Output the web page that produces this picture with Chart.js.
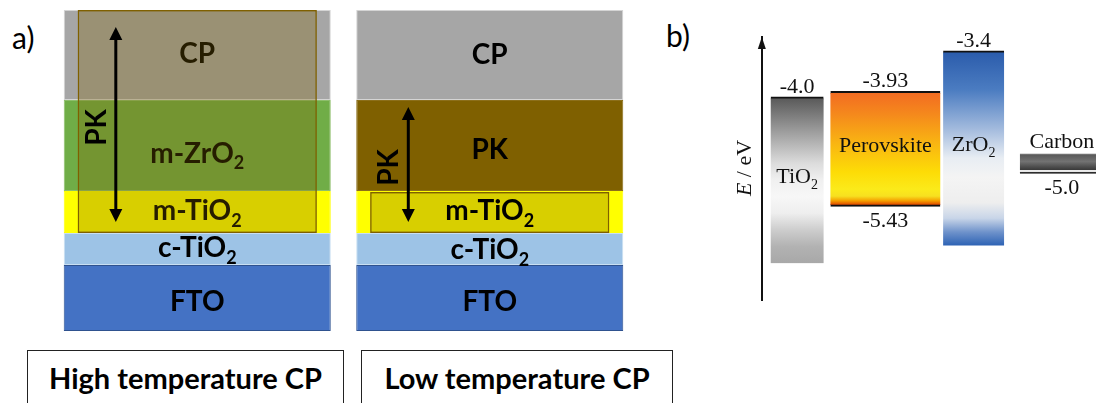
<!DOCTYPE html>
<html>
<head>
<meta charset="utf-8">
<script src="https://cdn.jsdelivr.net/npm/chart.js@4.4.0/dist/chart.umd.min.js"></script>
<style>
  html, body { margin: 0; padding: 0; background: #fff; }
  body { width: 1096px; height: 403px; overflow: hidden; position: relative; font-family: Lato, "Open Sans", sans-serif; }
  #stacks { position: absolute; left: 0; top: 0; }
  #bands { position: absolute; left: 700px; top: 0; }
  .panel-tag { position: absolute; font: 400 30px Lato, sans-serif; color: #000; line-height: 1; }
  .caption { position: absolute; top: 350px; height: 60px; box-sizing: border-box; border: 1.5px solid #222; border-bottom: none;
             font: 700 29px Lato, sans-serif; color: #000; text-align: center; line-height: 1; padding-top: 12px; }
</style>
</head>
<body>
<div class="panel-tag" style="left:12px;top:22px;">a)</div>
<div class="panel-tag" style="left:666px;top:20px;">b)</div>
<canvas id="stacks" width="650" height="340"></canvas>
<canvas id="bands" width="410" height="310"></canvas>
<div class="caption" style="left:27px;width:317px;">High temperature CP</div>
<div class="caption" style="left:361px;width:312px;">Low temperature CP</div>

<script>
// ---------- a) device cross-sections (layer thickness, arbitrary units, bottom → top) ----------
const stackNames = ['High temperature CP', 'Low temperature CP'];
const ftoLayer = [[0, 66], [0, 66]];
const compactTiO2Layer = [[66, 98], [66, 98]];
const mesoTiO2Layer = [[98, 140], [98, 140]];
const middleLayer = [[140, 231], [140, 231]];        // m-ZrO2 scaffold / perovskite capping layer
const carbonLayer = [[231, 321], [231, 321]];
const perovskiteFill = [[98, 321], [98, 139]];       // region infiltrated by perovskite
const middleLayerNames = ['m-ZrO2', 'PK'];
const pkArrowSpan = [[109, 304], [109, 224]];

// ---------- b) energy levels (eV) ----------
const materials = ['TiO2', 'Perovskite', 'ZrO2', 'Carbon'];
const upperLevel = [-4.0, -3.93, -3.4, -4.74];
const lowerLevel = [-6.17, -5.43, -5.94, -5.0];
const showUpperValue = [true, true, true, false];
const showLowerValue = [false, true, false, true];

// draws a formula such as "TiO2" with the digits set as subscripts, centred on (cx, cy)
function drawFormula(ctx, text, cx, cy, size, family, weight, capRatio) {
  const parts = text.split(/(\d+)/).filter(s => s.length);
  const mainFont = `${weight} ${size}px ${family}`;
  const subFont = `${weight} ${Math.round(size * 0.64)}px ${family}`;
  const widths = parts.map(p => { ctx.font = /^\d+$/.test(p) ? subFont : mainFont; return ctx.measureText(p).width; });
  const total = widths.reduce((a, b) => a + b, 0);
  let x = cx - total / 2;
  const baseline = cy + size * capRatio / 2;
  ctx.textAlign = 'left';
  ctx.textBaseline = 'alphabetic';
  parts.forEach((p, i) => {
    const sub = /^\d+$/.test(p);
    ctx.font = sub ? subFont : mainFont;
    ctx.fillText(p, x, baseline + (sub ? size * 0.24 : 0));
    x += widths[i];
  });
}

function drawArrow(ctx, x, y1, y2) {
  const head = 13, half = 6.5;
  ctx.save();
  ctx.strokeStyle = '#000';
  ctx.fillStyle = '#000';
  ctx.lineWidth = 3;
  ctx.beginPath();
  ctx.moveTo(x, y1 + head - 2);
  ctx.lineTo(x, y2 - head + 2);
  ctx.stroke();
  ctx.beginPath();
  ctx.moveTo(x, y1); ctx.lineTo(x - half, y1 + head); ctx.lineTo(x + half, y1 + head); ctx.closePath(); ctx.fill();
  ctx.beginPath();
  ctx.moveTo(x, y2); ctx.lineTo(x - half, y2 - head); ctx.lineTo(x + half, y2 - head); ctx.closePath(); ctx.fill();
  ctx.restore();
}

const LABEL_FONT = 'Lato, "Open Sans", sans-serif';

function layerLabels(chart, stackIndex) {
  const ctx = chart.ctx;
  ctx.save();
  ctx.fillStyle = '#000';
  chart.data.datasets.forEach((ds, di) => {
    if (!ds.layerText) return;
    const el = chart.getDatasetMeta(di).data[stackIndex];
    if (!el) return;
    const shift = ds.labelShift ? ds.labelShift[stackIndex] : 0;
    const cy = (el.y + el.base) / 2 + shift;
    drawFormula(ctx, ds.layerText[stackIndex], el.x, cy, 28, LABEL_FONT, 700, 0.72);
  });
  ctx.restore();
}

const stackAnnotations = {
  id: 'stackAnnotations',
  beforeDatasetDraw(chart, args) {
    // labels of the high-temperature stack sit beneath the translucent perovskite fill
    if (chart.data.datasets[args.index].fillRegion) layerLabels(chart, 0);
  },
  afterDatasetsDraw(chart) {
    layerLabels(chart, 1);
    const ctx = chart.ctx;
    const y = chart.scales.y;
    const meta = chart.getDatasetMeta(0).data;
    meta.forEach((el, i) => {
      const left = el.x - el.width / 2;
      const ax = left + el.width * 0.195;
      const yTop = y.getPixelForValue(pkArrowSpan[i][1]);
      const yBot = y.getPixelForValue(pkArrowSpan[i][0]);
      drawArrow(ctx, ax, yTop, yBot);
      ctx.save();
      ctx.translate(left + el.width * 0.12, (yTop + yBot) / 2 + 3);
      ctx.rotate(-Math.PI / 2);
      ctx.fillStyle = '#000';
      drawFormula(ctx, 'PK', 0, 0, 28, LABEL_FONT, 700, 0.72);
      ctx.restore();
    });
  }
};

const layerStyle = { barPercentage: 0.913, categoryPercentage: 1, grouped: false, borderSkipped: false, borderWidth: 1, order: 1 };

new Chart(document.getElementById('stacks'), {
  type: 'bar',
  data: {
    labels: stackNames,
    datasets: [
      Object.assign({ data: ftoLayer, backgroundColor: '#4472C4', borderColor: '#2F528F', layerText: ['FTO', 'FTO'], labelShift: [3, 3] }, layerStyle),
      Object.assign({ data: compactTiO2Layer, backgroundColor: '#9DC3E6', borderColor: '#C9DFF2', layerText: ['c-TiO2', 'c-TiO2'], labelShift: [-2, 0] }, layerStyle),
      Object.assign({ data: mesoTiO2Layer, backgroundColor: '#FFFF00', borderColor: '#FFFF00', layerText: ['m-TiO2', 'm-TiO2'], labelShift: [-2, -2] }, layerStyle),
      Object.assign({ data: middleLayer, backgroundColor: ['#70AD47', '#7F6000'], borderColor: ['#8DBE6B', '#8C6F1A'], layerText: middleLayerNames, labelShift: [7, 3] }, layerStyle),
      Object.assign({ data: carbonLayer, backgroundColor: '#A6A6A6', borderColor: '#D4D4D4', layerText: ['CP', 'CP'], labelShift: [-2, -1] }, layerStyle),
      { data: perovskiteFill, fillRegion: true, backgroundColor: 'rgba(127,96,0,0.3)', borderColor: '#7F6000', borderWidth: 1.5,
        borderSkipped: false, barPercentage: 0.818, categoryPercentage: 1, grouped: false, order: 0 }
    ]
  },
  options: {
    responsive: false,
    animation: false,
    events: [],
    layout: { padding: { left: 51, right: 14, top: 10, bottom: 9 } },
    plugins: { legend: { display: false }, tooltip: { enabled: false } },
    scales: {
      x: { display: false },
      y: { display: false, min: 0, max: 321 }
    }
  },
  plugins: [stackAnnotations]
});

// ---------- b) band diagram ----------
const bandStops = [
  [[0, '#575757'], [0.2, '#9a9a9a'], [0.4, '#dcdcdc'], [0.5, '#f0f0f0'], [0.6, '#f7f7f7'], [0.7, '#eeeeee'], [0.8, '#cdcdcd'], [0.9, '#b2b2b2'], [1, '#a8a8a8']],
  [[0, '#F26A22'], [0.2, '#F5891C'], [0.45, '#F9B512'], [0.7, '#FDDC06'], [0.85, '#FBEA1A'], [0.91, '#F7E020'], [0.95, '#F5A000'], [0.985, '#E04A00'], [1, '#C03000']],
  [[0, '#2A5BAB'], [0.2, '#4B7CC1'], [0.4, '#A2BADD'], [0.55, '#E8EDF3'], [0.65, '#F4F4F4'], [0.78, '#EEEEEE'], [0.86, '#C8D5E8'], [0.93, '#6F93CB'], [1, '#2D62B4']],
  [[0, '#a0a0a0'], [0.07, '#5a5a5a'], [0.4, '#727272'], [0.78, '#3e3e3e'], [0.82, '#3a3a3a'], [0.84, '#ececec'], [0.9, '#ececec'], [0.92, '#222'], [1, '#222']]
];
const barWidths = [53, 110, 61, 84];
const edgeWidths = [{ top: 2, bottom: 0, left: 0, right: 0 }, { top: 2, bottom: 2, left: 0, right: 0 },
                    { top: 2, bottom: 0, left: 0, right: 0 }, { top: 0, bottom: 1, left: 0, right: 0 }];
const edgeColors = ['#111', '#111', '#111', '#111'];
const AXIS_AT = -0.4;

function bandFill(i) {
  return (c) => {
    const chart = c.chart;
    if (!chart.chartArea) return bandStops[i][0][1];
    const ys = chart.scales.y;
    const g = chart.ctx.createLinearGradient(0, ys.getPixelForValue(upperLevel[i]), 0, ys.getPixelForValue(lowerLevel[i]));
    bandStops[i].forEach(([p, col]) => g.addColorStop(p, col));
    return g;
  };
}

const fmt = v => v.toLocaleString('en-US', { minimumFractionDigits: 1, maximumFractionDigits: 2 });
const SERIF = '"Liberation Serif", "Times New Roman", serif';

const bandAnnotations = {
  id: 'bandAnnotations',
  afterDatasetsDraw(chart) {
    const ctx = chart.ctx;
    const ys = chart.scales.y;
    const axisX = chart.scales.x.getPixelForValue(AXIS_AT);
    // arrow head on the energy axis
    ctx.save();
    ctx.fillStyle = '#111';
    ctx.beginPath();
    ctx.moveTo(axisX, ys.top);
    ctx.lineTo(axisX - 4, ys.top + 12);
    ctx.lineTo(axisX + 4, ys.top + 12);
    ctx.closePath();
    ctx.fill();
    // axis title
    ctx.translate(axisX - 17, 168);
    ctx.rotate(-Math.PI / 2);
    ctx.fillStyle = '#111';
    ctx.textBaseline = 'middle';
    ctx.font = `italic 22px ${SERIF}`;
    const wE = ctx.measureText('E').width;
    ctx.font = `22px ${SERIF}`;
    const wRest = ctx.measureText(' / eV').width;
    ctx.textAlign = 'left';
    ctx.font = `italic 22px ${SERIF}`;
    ctx.fillText('E', -(wE + wRest) / 2, 0);
    ctx.font = `22px ${SERIF}`;
    ctx.fillText(' / eV', -(wE + wRest) / 2 + wE, 0);
    ctx.restore();

    ctx.save();
    ctx.fillStyle = '#111';
    materials.forEach((m, i) => {
      const el = chart.getDatasetMeta(i).data[i];
      const top = ys.getPixelForValue(upperLevel[i]);
      const bottom = ys.getPixelForValue(lowerLevel[i]);
      ctx.font = `22px ${SERIF}`;
      ctx.textAlign = 'center';
      ctx.textBaseline = 'alphabetic';
      if (showUpperValue[i]) ctx.fillText(fmt(upperLevel[i]), el.x, top - 4);
      if (showLowerValue[i]) ctx.fillText(fmt(lowerLevel[i]), el.x, bottom + 21);
      if (i === 3) {
        drawFormula(ctx, m, el.x, top - 13, 22, SERIF, 400, 0.66);
      } else {
        drawFormula(ctx, m, el.x, (top + bottom) / 2 - 4, 22, SERIF, 400, 0.66);
      }
    });
    ctx.restore();
  }
};

new Chart(document.getElementById('bands'), {
  type: 'bar',
  data: {
    labels: materials,
    datasets: materials.map((m, i) => ({
      label: m,
      data: materials.map((_, j) => (j === i ? [lowerLevel[i], upperLevel[i]] : null)),
      backgroundColor: bandFill(i),
      borderColor: edgeColors[i],
      borderWidth: edgeWidths[i],
      borderSkipped: false,
      barThickness: barWidths[i],
      grouped: false
    }))
  },
  options: {
    responsive: false,
    animation: false,
    events: [],
    layout: { padding: { left: 53, right: 4, top: 37, bottom: 10 } },
    plugins: { legend: { display: false }, tooltip: { enabled: false } },
    scales: {
      x: { display: false },
      y: {
        min: -6.65, max: -3.22,
        position: { x: AXIS_AT },
        grid: { display: false, drawTicks: false },
        ticks: { display: false },
        border: { display: true, color: '#111', width: 2 }
      }
    }
  },
  plugins: [bandAnnotations]
});
</script>
</body>
</html>
